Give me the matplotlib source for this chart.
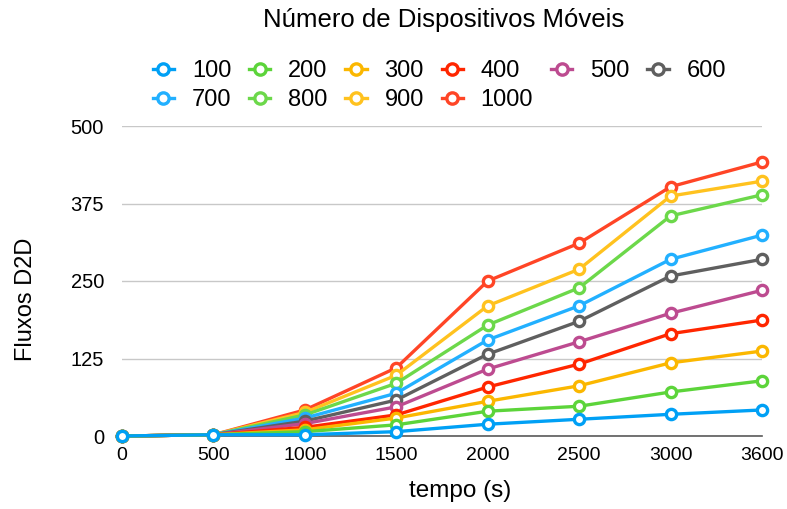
import matplotlib
matplotlib.use("Agg")
import matplotlib.pyplot as plt

plt.rcParams['font.family'] = ['Liberation Sans', 'DejaVu Sans']

x_labels = ["0", "500", "1000", "1500", "2000", "2500", "3000", "3600"]
series_names = ["100", "200", "300", "400", "500", "600", "700", "800", "900", "1000"]

s100 = [0, 2, 2, 7, 19, 27, 35, 42]
s200 = [0, 2, 7, 18, 40, 48, 71, 89]
s300 = [0, 2, 10, 29, 56, 81, 118, 137]
s400 = [0, 2, 14, 34, 79, 116, 165, 187]
s500 = [0, 2, 20, 47, 108, 152, 198, 235]
s600 = [0, 2, 24, 58, 132, 185, 258, 285]
s700 = [0, 2, 29, 69, 155, 210, 285, 324]
s800 = [0, 2, 34, 85, 179, 239, 355, 389]
s900 = [0, 2, 38, 98, 210, 269, 387, 411]
s1000 = [0, 2, 42, 110, 250, 311, 402, 442]

values = [s100, s200, s300, s400, s500, s600, s700, s800, s900, s1000]
colors = ["#00A0F5", "#5CD43A", "#FBB700", "#FF2600", "#BD4B90",
          "#5F5F5F", "#22B0FF", "#6CD84A", "#FFC21F", "#FF4526"]

y_ticks = [0, 125, 250, 375, 500]

fig = plt.figure(figsize=(7.87, 5.09), dpi=100)
ax = fig.add_axes([122/787, 1-436/509, (762-122)/787, (436-126)/509])

xs = list(range(len(x_labels)))
handles = {}
for i in reversed(range(len(values))):
    h, = ax.plot(xs, values[i], color=colors[i], lw=2.4, marker='o', ms=7.4,
                 mfc='white', mec=colors[i], mew=2.4, clip_on=False, zorder=3 + (10 - i) * 0.1,
                 label=series_names[i])
    handles[series_names[i]] = h

ax.set_xlim(0, len(x_labels) - 1)
ax.set_ylim(0, 500)
ax.set_xticks(xs)
ax.set_xticklabels(x_labels, fontsize=14)
ax.set_yticks(y_ticks)
ax.set_yticklabels([str(t) for t in y_ticks], fontsize=14.5)
ax.tick_params(axis='x', length=0, pad=8)
ax.tick_params(axis='y', length=0, pad=13)
ax.grid(axis='y', color='#C8C8C8', lw=1)
ax.set_axisbelow(True)
for sp in ['top', 'right', 'left']:
    ax.spines[sp].set_visible(False)
ax.spines['bottom'].set_color('#5A5A5A')
ax.spines['bottom'].set_linewidth(1.2)

ax.set_xlabel("tempo (s)", fontsize=17.5)
ax.xaxis.set_label_coords(0.528, -0.142)
ax.set_ylabel("Fluxos D2D", fontsize=17)
ax.yaxis.set_label_coords(-0.133, 0.442)

fig.text(444/787, 1-20/509, "Número de Dispositivos Móveis", fontsize=18.5,
         ha='center', va='center')

order = ["100", "700", "200", "800", "300", "900", "400", "1000", "500", "600"]
leg = fig.legend([handles[k] for k in order], order, ncol=6, loc='upper left',
                 bbox_to_anchor=(141/787, 1-48/509), frameon=False, fontsize=17,
                 handlelength=0.9, handletextpad=0.75, columnspacing=0.76,
                 labelspacing=0.3, borderpad=0, markerscale=1.1)

fig.savefig("out.png", dpi=100)
